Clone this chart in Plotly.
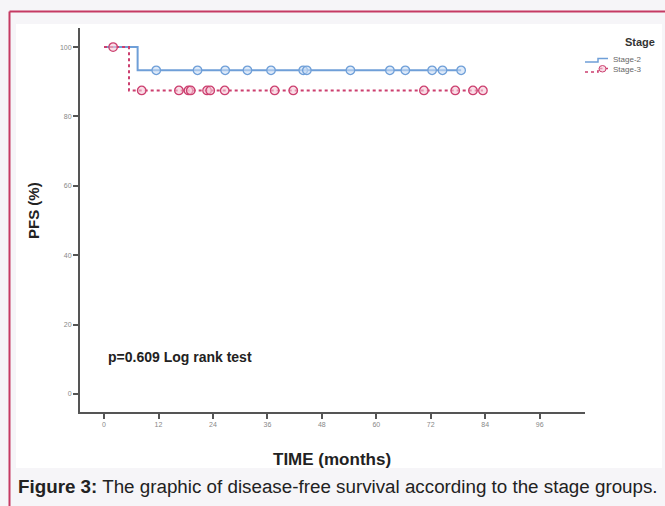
import plotly.graph_objects as go

# ---- data ----
stage2_times = [0, 7.4, 78.7]
stage2_surv = [100, 93.3, 93.3]
stage2_censor_t = [11.5, 20.6, 26.7, 31.6, 36.8, 43.9, 44.7, 54.3, 63.0, 66.4, 72.3, 74.6, 78.7]
stage2_censor_s = [93.3] * len(stage2_censor_t)

stage3_times = [0, 5.5, 83.5]
stage3_surv = [100, 87.5, 87.5]
stage3_censor_t = [2.0, 8.3, 16.5, 18.6, 19.1, 22.7, 23.4, 26.6, 37.6, 41.7, 70.5, 77.4, 81.3, 83.5]
stage3_censor_s = [100] + [87.5] * 13

x_ticks = [0, 12, 24, 36, 48, 60, 72, 84, 96]
y_ticks = [0, 20, 40, 60, 80, 100]

BLUE = "#6f9fd8"
RED = "#cc3f6f"
W, H = 665, 506
L, R, T, B = 80, 80, 28, 94
PW, PH = W - L - R, H - T - B

def px(x):
    return (x - L) / PW

def py(y):
    return (H - B - y) / PH

fig = go.Figure()
fig.add_trace(go.Scatter(x=stage2_times, y=stage2_surv, mode="lines", line_shape="hv",
                         line=dict(color=BLUE, width=2), showlegend=False, hoverinfo="skip"))
fig.add_trace(go.Scatter(x=stage3_times, y=stage3_surv, mode="lines", line_shape="hv",
                         line=dict(color=RED, width=2, dash="dot"), showlegend=False, hoverinfo="skip"))
fig.add_trace(go.Scatter(x=stage2_censor_t, y=stage2_censor_s, mode="markers",
                         marker=dict(symbol="circle", size=8.5, color="rgba(200,220,245,0.6)",
                                     line=dict(color=BLUE, width=1.3)), showlegend=False))
fig.add_trace(go.Scatter(x=stage3_censor_t, y=stage3_censor_s, mode="markers",
                         marker=dict(symbol="circle", size=8.5, color="rgba(245,200,215,0.6)",
                                     line=dict(color=RED, width=1.3)), showlegend=False))

shapes = [
    # white picture area
    dict(type="rect", xref="paper", yref="paper", x0=px(16), x1=px(662), y0=py(468), y1=py(24),
         fillcolor="white", line=dict(width=0), layer="below"),
    # crimson frame
    dict(type="line", xref="paper", yref="paper", x0=px(9.5), x1=px(670), y0=py(11.5), y1=py(11.5),
         line=dict(color="#c53a63", width=2)),
    dict(type="line", xref="paper", yref="paper", x0=px(9.5), x1=px(9.5), y0=py(11.5), y1=py(510),
         line=dict(color="#c53a63", width=2)),
    # legend symbols
    dict(type="path", xref="paper", yref="paper",
         path=f"M {px(585)},{py(62)} L {px(598)},{py(62)} L {px(598)},{py(58.5)} L {px(608)},{py(58.5)}",
         line=dict(color=BLUE, width=1.5)),
    dict(type="path", xref="paper", yref="paper",
         path=f"M {px(585)},{py(72)} L {px(598)},{py(72)} L {px(598)},{py(68.5)} L {px(608)},{py(68.5)}",
         line=dict(color=RED, width=1.5, dash="dot")),
    dict(type="circle", xref="paper", yref="paper", x0=px(599), x1=px(606), y0=py(72), y1=py(65.5),
         line=dict(color=RED, width=1), fillcolor="rgba(245,200,215,0.6)"),
]

annotations = [
    dict(text="<b>p=0.609 Log rank test</b>", xref="paper", yref="paper", x=px(106), y=py(357),
         xanchor="left", yanchor="middle", showarrow=False, font=dict(size=14, color="#222")),
    dict(text="<b>PFS (%)</b>", xref="paper", yref="paper", x=px(33), y=py(211), textangle=-90,
         xanchor="center", yanchor="middle", showarrow=False, font=dict(size=15, color="#222")),
    dict(text="<b>TIME (months)</b>", xref="paper", yref="paper", x=px(332), y=py(459),
         xanchor="center", yanchor="middle", showarrow=False, font=dict(size=17, color="#222")),
    dict(text="<b>Stage</b>", xref="paper", yref="paper", x=px(657), y=py(42),
         xanchor="right", yanchor="middle", showarrow=False, font=dict(size=11, color="#333")),
    dict(text="Stage-2", xref="paper", yref="paper", x=px(611), y=py(59.5),
         xanchor="left", yanchor="middle", showarrow=False, font=dict(size=8, color="#666")),
    dict(text="Stage-3", xref="paper", yref="paper", x=px(611), y=py(69.5),
         xanchor="left", yanchor="middle", showarrow=False, font=dict(size=8, color="#666")),
    dict(text="<b>Figure 3:</b> The graphic of disease-free survival according to the stage groups.",
         xref="paper", yref="paper", x=px(16), y=py(486), xanchor="left", yanchor="middle",
         showarrow=False, font=dict(size=18.8, color="#222")),
]

fig.update_layout(
    width=W, height=H,
    margin=dict(l=L, r=R, t=T, b=B, pad=0),
    paper_bgcolor="#f6f5f8", plot_bgcolor="rgba(0,0,0,0)",
    font=dict(family="Liberation Sans, Arial, sans-serif"),
    shapes=shapes, annotations=annotations, showlegend=False,
    xaxis=dict(range=[-5.3, 106], tickvals=x_ticks, ticktext=[str(v) for v in x_ticks],
               showgrid=False, zeroline=False, showline=True, linecolor="#555", linewidth=2,
               ticks="outside", ticklen=5, tickwidth=2, tickcolor="#555",
               tickfont=dict(size=7, color="#888")),
    yaxis=dict(range=[-5.2, 105.5], tickvals=y_ticks, ticktext=[str(v) for v in y_ticks],
               showgrid=False, zeroline=False, showline=True, linecolor="#555", linewidth=2,
               ticks="outside", ticklen=5, tickwidth=2, tickcolor="#555",
               tickfont=dict(size=7, color="#888")),
)

fig.write_html("out.html")
